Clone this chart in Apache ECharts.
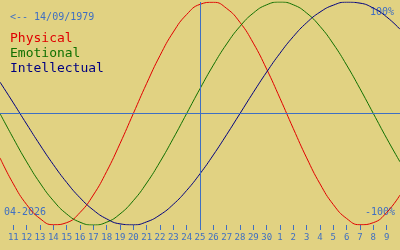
<!DOCTYPE html>
<html>
<head>
<meta charset="utf-8">
<script src="https://cdn.jsdelivr.net/npm/echarts@6/dist/echarts.min.js"></script>
<style>
html,body{margin:0;padding:0;background:#e1d282;}
#c{width:400px;height:250px;}
</style>
</head>
<body>
<div id="c"></div>
<script>
// Days shown: 10 Apr 2026 .. 10 May 2026
const dayLabels = ['10','11','12','13','14','15','16','17','18','19','20','21','22','23','24','25','26','27','28','29','30','1','2','3','4','5','6','7','8','9','10'];
const physical = [-0.398,-0.631,-0.817,-0.942,-0.998,-0.979,-0.888,-0.731,-0.520,-0.270,0,0.270,0.520,0.731,0.888,0.979,0.998,0.942,0.817,0.631,0.398,0.136,-0.136,-0.398,-0.631,-0.817,-0.942,-0.998,-0.979,-0.888,-0.731];
const emotional = [0,-0.2225,-0.4339,-0.6235,-0.7818,-0.9010,-0.9749,-1,-0.9749,-0.9010,-0.7818,-0.6235,-0.4339,-0.2225,0,0.2225,0.4339,0.6235,0.7818,0.9010,0.9749,1,0.9749,0.9010,0.7818,0.6235,0.4339,0.2225,0,-0.2225,-0.4339];
const intellectual = [0.2817,0.0951,-0.0951,-0.2817,-0.4582,-0.6182,-0.7557,-0.8660,-0.9450,-0.9898,-0.9989,-0.9718,-0.9096,-0.8146,-0.6901,-0.5406,-0.3717,-0.1893,0,0.1893,0.3717,0.5406,0.6901,0.8146,0.9096,0.9718,0.9989,0.9898,0.9450,0.8660,0.7557];
const todayIndex = 15;
const birthLabel = '<-- 14/09/1979';
const monthLabel = '04-2026';
const seriesNames = ['Physical','Emotional','Intellectual'];

const BLUE = '#3f6fc2';
const COLORS = ['#e00000','#107000','#000080'];
const FONT = '"DejaVu Sans Mono", "Liberation Mono", monospace';

const chart = echarts.init(document.getElementById('c'), null, {renderer:'canvas'});
const inRange = (i) => i >= 1 && i <= dayLabels.length - 2;
chart.setOption({
  backgroundColor: '#e1d282',
  animation: false,
  grid: {left: 0, right: 0, top: 2, bottom: 25, containLabel: false},
  xAxis: {
    type: 'category', data: dayLabels, boundaryGap: false,
    axisLine: {show: false, onZero: false},
    axisTick: {show: true, interval: (i) => inRange(i), length: 5, lineStyle: {color: BLUE, width: 1}},
    axisLabel: {interval: (i) => inRange(i), color: BLUE, fontFamily: FONT, fontSize: 9, margin: 8},
    splitLine: {show: false}
  },
  yAxis: {type: 'value', min: -1, max: 1, show: false, splitLine: {show: false}},
  series: [
    {name: seriesNames[0], type: 'line', data: physical, smooth: 0.5, showSymbol: false,
     lineStyle: {color: COLORS[0], width: 1},
     markLine: {silent: true, symbol: 'none', label: {show: false},
       lineStyle: {color: BLUE, width: 1, type: 'solid'},
       data: [{yAxis: 0}, {xAxis: todayIndex}]}},
    {name: seriesNames[1], type: 'line', data: emotional, smooth: 0.5, showSymbol: false,
     lineStyle: {color: COLORS[1], width: 1}},
    {name: seriesNames[2], type: 'line', data: intellectual, smooth: 0.5, showSymbol: false,
     lineStyle: {color: COLORS[2], width: 1}}
  ],
  graphic: [
    {type: 'text', left: 10, top: 12, style: {text: birthLabel, fill: BLUE, font: '10px ' + FONT}},
    {type: 'text', left: 10, top: 32, style: {text: seriesNames[0], fill: COLORS[0], font: '13px ' + FONT}},
    {type: 'text', left: 10, top: 47, style: {text: seriesNames[1], fill: COLORS[1], font: '13px ' + FONT}},
    {type: 'text', left: 10, top: 62, style: {text: seriesNames[2], fill: COLORS[2], font: '13px ' + FONT}},
    {type: 'text', right: 6, top: 7, style: {text: '100%', fill: BLUE, font: '10px ' + FONT}},
    {type: 'text', right: 5, top: 207, style: {text: '-100%', fill: BLUE, font: '10px ' + FONT}},
    {type: 'text', left: 4, top: 207, style: {text: monthLabel, fill: BLUE, font: '10px ' + FONT}}
  ]
});
</script>
</body>
</html>
